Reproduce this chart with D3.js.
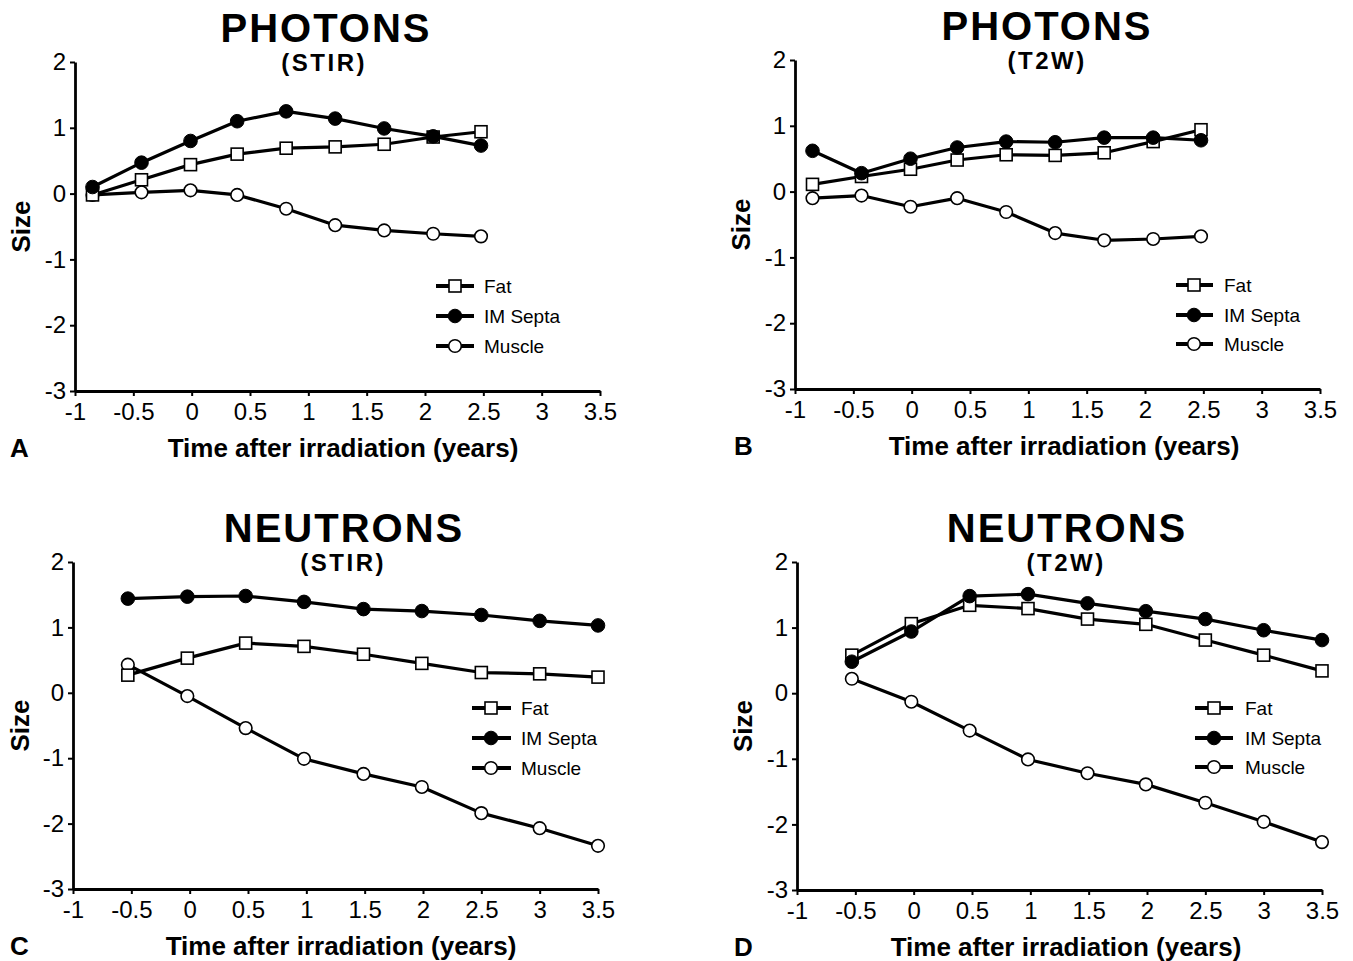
<!DOCTYPE html>
<html>
<head>
<meta charset="utf-8">
<script src="https://cdn.jsdelivr.net/npm/d3@7"></script>
<style>
  html, body { margin: 0; padding: 0; background: #fff; }
  svg { display: block; }
  text { font-family: "Liberation Sans", Arial, Helvetica, sans-serif; fill: #000; }
</style>
</head>
<body>
<svg id="chart" width="1353" height="961"></svg>
<script>
// ---------- data ----------
const xTickValues = [-1, -0.5, 0, 0.5, 1, 1.5, 2, 2.5, 3, 3.5];
const yTickValues = [-3, -2, -1, 0, 1, 2];
const seriesNames = ["Fat", "IM Septa", "Muscle"];

const photonTimes = [-0.85, -0.43, -0.01, 0.39, 0.81, 1.23, 1.65, 2.07, 2.48];
const neutronTimes = [-0.53, -0.02, 0.48, 0.98, 1.49, 1.99, 2.5, 3.0, 3.5];

// A: Photons (STIR)
const aFat    = [-0.02, 0.21, 0.44, 0.60, 0.69, 0.71, 0.75, 0.86, 0.94];
const aSepta  = [0.10, 0.47, 0.80, 1.10, 1.25, 1.14, 0.99, 0.87, 0.73];
const aMuscle = [-0.02, 0.02, 0.05, -0.02, -0.23, -0.48, -0.56, -0.61, -0.65];
// B: Photons (T2W)
const bFat    = [0.11, 0.23, 0.34, 0.48, 0.56, 0.55, 0.59, 0.76, 0.94];
const bSepta  = [0.62, 0.28, 0.50, 0.67, 0.76, 0.75, 0.82, 0.82, 0.78];
const bMuscle = [-0.10, -0.06, -0.23, -0.10, -0.31, -0.63, -0.74, -0.72, -0.68];
// C: Neutrons (STIR)
const cFat    = [0.27, 0.53, 0.76, 0.71, 0.59, 0.45, 0.31, 0.29, 0.24];
const cSepta  = [1.44, 1.47, 1.48, 1.39, 1.28, 1.25, 1.19, 1.10, 1.03];
const cMuscle = [0.43, -0.05, -0.54, -1.01, -1.24, -1.44, -1.84, -2.07, -2.34];
// D: Neutrons (T2W)
const dFat    = [0.58, 1.06, 1.34, 1.29, 1.13, 1.05, 0.81, 0.58, 0.34];
const dSepta  = [0.48, 0.94, 1.48, 1.51, 1.37, 1.25, 1.13, 0.96, 0.81];
const dMuscle = [0.22, -0.13, -0.57, -1.01, -1.22, -1.39, -1.67, -1.96, -2.27];

const panelTitles = ["PHOTONS", "PHOTONS", "NEUTRONS", "NEUTRONS"];
const panelSubtitles = ["(STIR)", "(T2W)", "(STIR)", "(T2W)"];
const panelLetters = ["A", "B", "C", "D"];
const xAxisTitle = "Time after irradiation (years)";
const yAxisTitle = "Size";

// ---------- layout ----------
const panels = [
  { times: photonTimes, vals: [aFat, aSepta, aMuscle],
    x0: 75, x1: 600, yT: 62, yB: 391, titleCx: 325, subCx: 323, xtCx: 343, sizeX: 30, letterX: 10,
    legLine: [436, 474], legMark: 455, legText: 484, legY: [286, 316, 346] },
  { times: photonTimes, vals: [bFat, bSepta, bMuscle],
    x0: 795, x1: 1320, yT: 60, yB: 389, titleCx: 1046, subCx: 1046, xtCx: 1064, sizeX: 750, letterX: 734,
    legLine: [1176, 1213], legMark: 1194, legText: 1224, legY: [285, 315, 344] },
  { times: neutronTimes, vals: [cFat, cSepta, cMuscle],
    x0: 73, x1: 598, yT: 562, yB: 889, titleCx: 343, subCx: 342, xtCx: 341, sizeX: 29, letterX: 10,
    legLine: [472, 511], legMark: 491, legText: 521, legY: [708, 738, 768] },
  { times: neutronTimes, vals: [dFat, dSepta, dMuscle],
    x0: 797, x1: 1322, yT: 562, yB: 890, titleCx: 1066, subCx: 1065, xtCx: 1066, sizeX: 752, letterX: 734,
    legLine: [1195, 1233], legMark: 1214, legText: 1245, legY: [708, 738, 767] }
];

const svg = d3.select("#chart");
const R = 6.3, S = 12;

function drawMarker(g, kind, cx, cy) {
  if (kind === 0) {
    g.append("rect").attr("x", cx - S / 2).attr("y", cy - S / 2).attr("width", S).attr("height", S)
      .attr("fill", "#fff").attr("stroke", "#000").attr("stroke-width", 1.6);
  } else if (kind === 1) {
    g.append("circle").attr("cx", cx).attr("cy", cy).attr("r", R + 0.5)
      .attr("fill", "#000").attr("stroke", "#000").attr("stroke-width", 1);
  } else {
    g.append("circle").attr("cx", cx).attr("cy", cy).attr("r", R)
      .attr("fill", "#fff").attr("stroke", "#000").attr("stroke-width", 1.6);
  }
}

panels.forEach((p, i) => {
  const g = svg.append("g");
  const x = d3.scaleLinear().domain([-1, 3.5]).range([p.x0, p.x1]);
  const y = d3.scaleLinear().domain([-3, 2]).range([p.yB, p.yT]);

  // axes
  const xAxis = d3.axisBottom(x).tickValues(xTickValues).tickFormat(d => String(d))
    .tickSize(5).tickSizeOuter(0).tickPadding(7);
  const yAxis = d3.axisLeft(y).tickValues(yTickValues).tickFormat(d => String(d))
    .tickSize(5).tickSizeOuter(0).tickPadding(4);

  const gx = g.append("g").attr("transform", `translate(0,${p.yB})`).call(xAxis);
  const gy = g.append("g").attr("transform", `translate(${p.x0},0)`).call(yAxis);
  [gx, gy].forEach(a => {
    a.select(".domain").attr("stroke", "#000").attr("stroke-width", 2.8);
    a.selectAll(".tick line").attr("stroke", "#000").attr("stroke-width", 2);
    a.selectAll(".tick text").style("font-size", "24px")
      .style("font-family", '"Liberation Sans", Arial, Helvetica, sans-serif').attr("fill", "#000");
  });

  // titles
  g.append("text").attr("x", p.titleCx + 1).attr("y", p.yT - 20).attr("text-anchor", "middle")
    .style("font-size", "40px").style("font-weight", "bold").style("letter-spacing", "2px")
    .text(panelTitles[i]);
  g.append("text").attr("x", p.subCx + 1.2).attr("y", p.yT + 9).attr("text-anchor", "middle")
    .style("font-size", "24px").style("font-weight", "bold").style("letter-spacing", "2.5px")
    .text(panelSubtitles[i]);

  // axis titles
  g.append("text").attr("x", p.xtCx).attr("y", p.yB + 66).attr("text-anchor", "middle")
    .style("font-size", "26px").style("font-weight", "bold").text(xAxisTitle);
  g.append("text").attr("transform", `translate(${p.sizeX},${(p.yT + p.yB) / 2}) rotate(-90)`)
    .attr("text-anchor", "middle").style("font-size", "26px").style("font-weight", "bold").text(yAxisTitle);
  g.append("text").attr("x", p.letterX).attr("y", p.yB + 66)
    .style("font-size", "26px").style("font-weight", "bold").text(panelLetters[i]);

  // lines
  const line = d3.line().x(d => x(d[0])).y(d => y(d[1]));
  p.vals.forEach(vals => {
    const pts = p.times.map((t, k) => [t, vals[k]]);
    g.append("path").attr("d", line(pts)).attr("fill", "none").attr("stroke", "#000")
      .attr("stroke-width", 3.2).attr("stroke-linejoin", "round");
  });
  // markers: muscle, fat, septa on top
  [2, 0, 1].forEach(s => {
    p.times.forEach((t, k) => drawMarker(g, s, x(t), y(p.vals[s][k])));
  });

  // legend
  seriesNames.forEach((name, s) => {
    const ly = p.legY[s];
    g.append("line").attr("x1", p.legLine[0]).attr("x2", p.legLine[1]).attr("y1", ly).attr("y2", ly)
      .attr("stroke", "#000").attr("stroke-width", 4);
    drawMarker(g, s, p.legMark, ly);
    g.append("text").attr("x", p.legText).attr("y", ly).attr("dy", "0.35em")
      .style("font-size", "19px").text(name);
  });
});
</script>
</body>
</html>
